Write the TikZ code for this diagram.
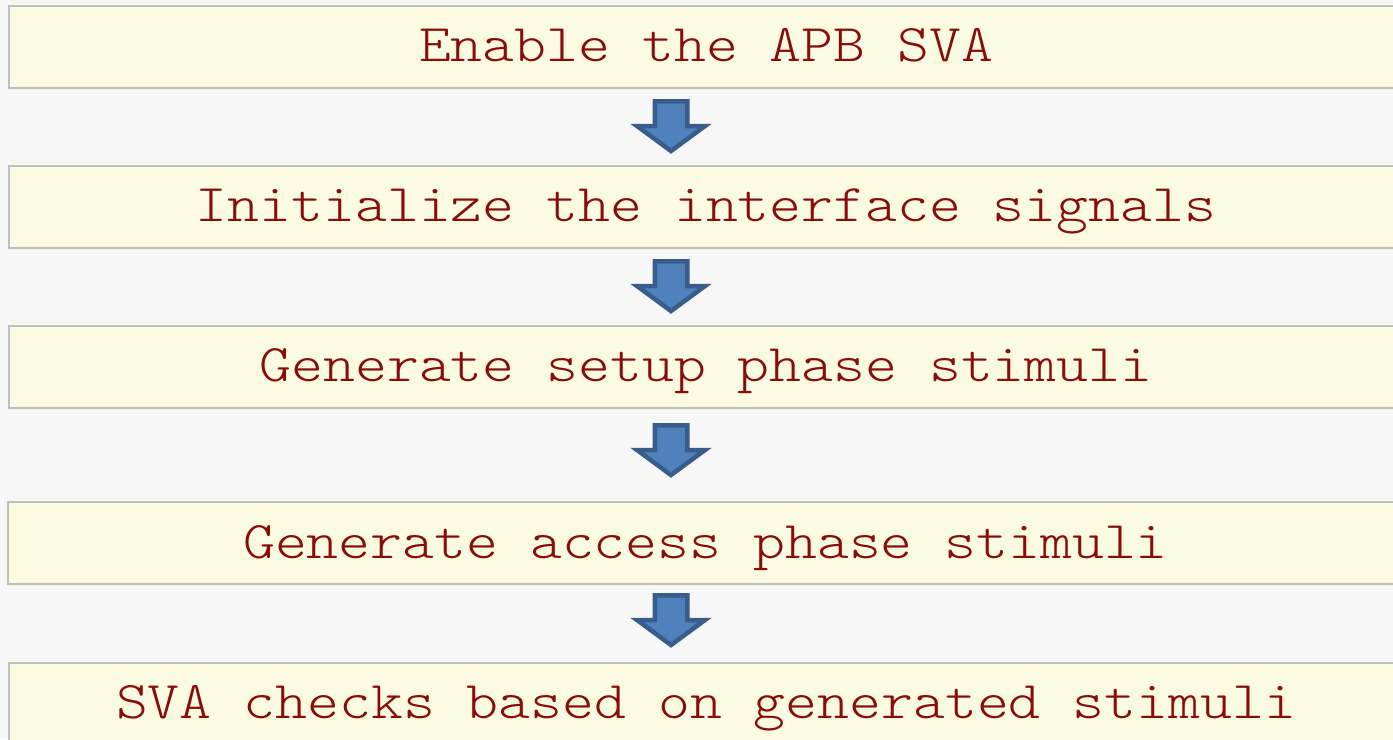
\documentclass[tikz,border=0pt]{standalone}
\usepackage{fontspec}
\newfontfamily\steptt{Latin Modern Mono Light}[FakeStretch=1.146]
\definecolor{pagebg}{HTML}{F7F7F7}
\definecolor{stepfill}{HTML}{FBFBE2}
\definecolor{stepline}{HTML}{BFBFBF}
\definecolor{steptext}{HTML}{8B0A0A}
\definecolor{arrowfill}{HTML}{4F81BD}
\definecolor{arrowline}{HTML}{385D8A}
\tikzset{
  stepbox/.style={rectangle, draw=stepline, fill=stepfill, line width=2bp,
    minimum width=1394bp, minimum height=82bp, inner sep=0pt,
    text height=40bp, text depth=10bp, text=steptext,
    font=\fontsize{53bp}{60bp}\selectfont\steptt},
  blockarrow/.style={draw=arrowline, fill=arrowfill, line width=4.5bp, line join=miter},
  pics/downarrow/.style={code={
    \path[blockarrow] (-16.25,0) -- (16.25,0) -- (16.25,24.75) -- (34,24.75)
      -- (0,49.75) -- (-34,24.75) -- (-16.25,24.75) -- cycle;
  }}
}
\begin{document}
\begin{tikzpicture}[x=1bp, y=-1bp]
  \useasboundingbox (0,0) rectangle (1393,739);
  \fill[pagebg] (0,0) rectangle (1393,739);
  \clip (0,0) rectangle (1393,739);

  % process steps
  \node[stepbox] (s1) at (706,47)    {Enable the APB SVA};
  \node[stepbox] (s2) at (706,206.5) {Initialize the interface signals};
  \node[stepbox] (s3) at (706,366.5) {Generate setup phase stimuli};
  \node[stepbox] (s4) at (705.5,543) {Generate access phase stimuli};
  \node[stepbox] (s5) at (706,703.5) {SVA checks based on generated stimuli};

  % block arrows between the steps
  \pic at (671,101.25) {downarrow};
  \pic at (671,261.25) {downarrow};
  \pic at (671,425.25) {downarrow};
  \pic at (671,595.25) {downarrow};
\end{tikzpicture}
\end{document}
